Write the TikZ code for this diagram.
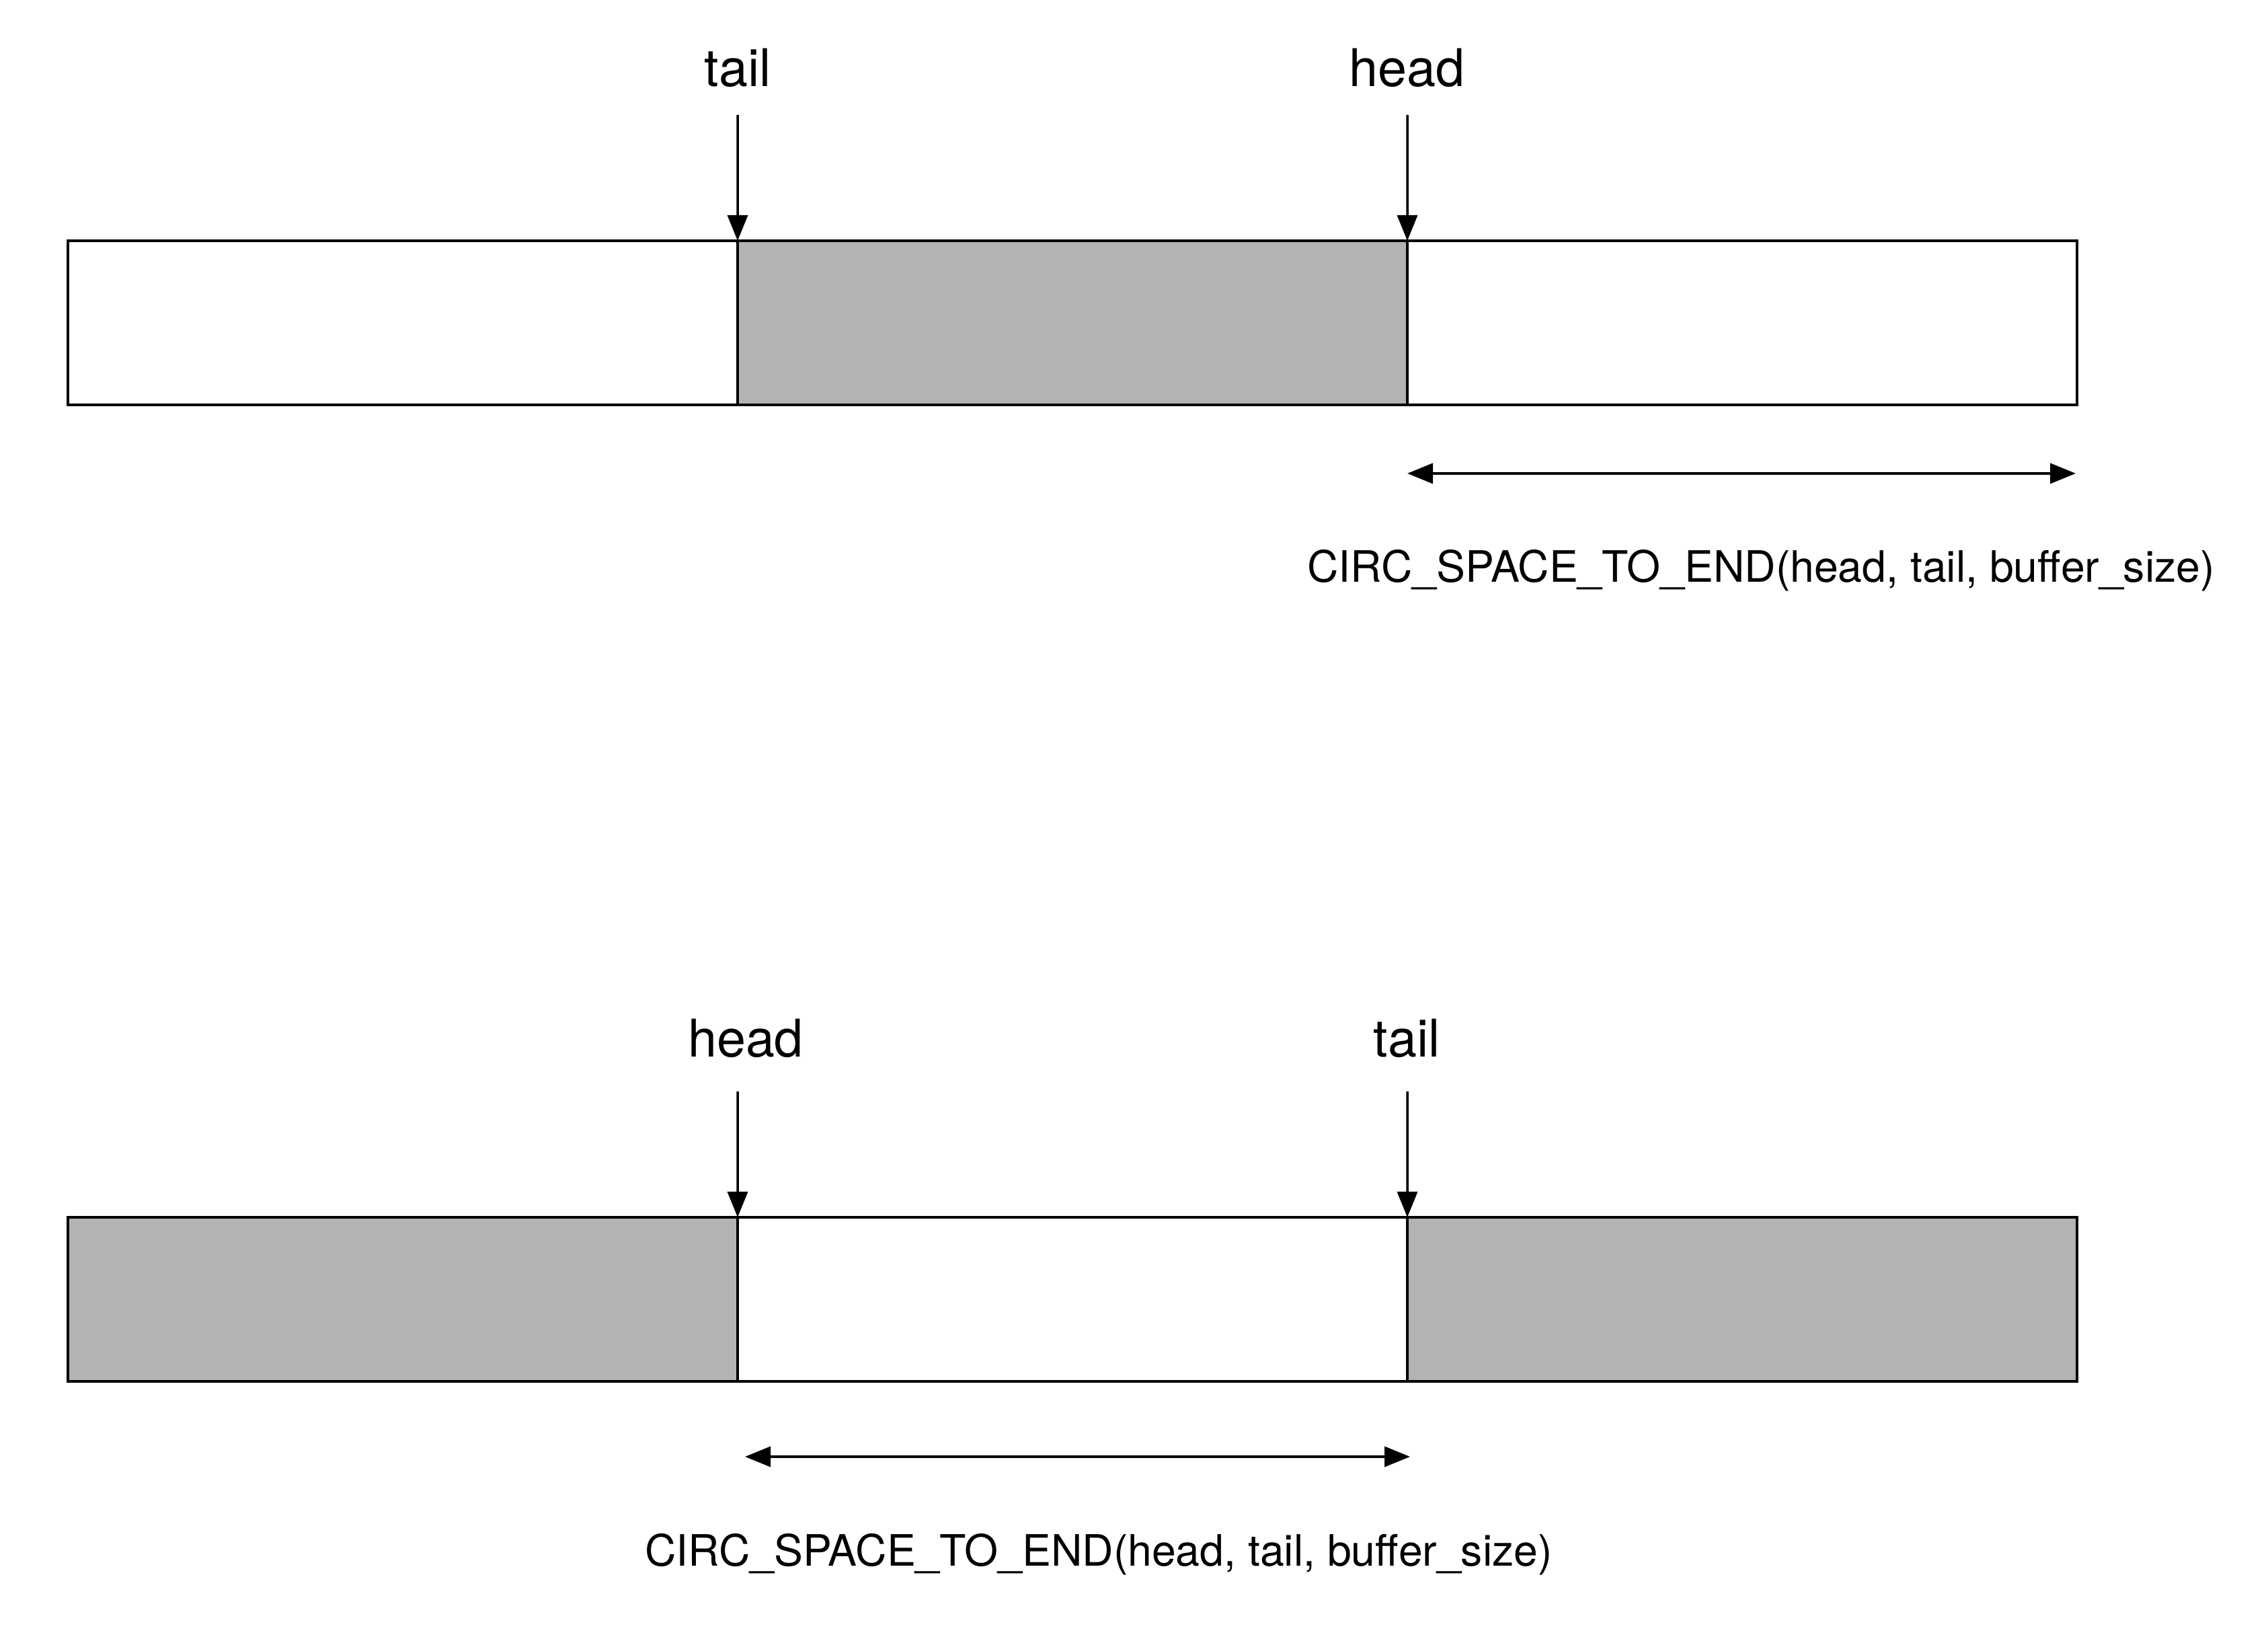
\documentclass[tikz,border=0pt]{standalone}
\usepackage{fontspec}
\setmainfont{TeX Gyre Heros}
\usepackage{xcolor}
\usepackage{tikz}
\usetikzlibrary{arrows.meta, positioning}
\definecolor{bufgray}{HTML}{B3B3B3}

\begin{document}
\begin{tikzpicture}[x=1cm, y=1cm,
  cell/.style={draw=black, line width=1.1pt, minimum width=9.96cm, minimum height=2.44cm, inner sep=0pt, outer sep=0pt},
  usedcell/.style={cell, fill=bufgray},
  ptrlabel/.style={font=\fontsize{22}{26}\selectfont, anchor=base, inner sep=0pt},
  spanlabel/.style={font=\fontsize{18.3}{22}\selectfont, anchor=base, inner sep=0pt},
  ptr/.style={-{Triangle[length=0.38cm, width=0.30cm]}, line width=1pt},
  spanarrow/.style={{Triangle[length=0.38cm, width=0.30cm]}-{Triangle[length=0.38cm, width=0.30cm]}, line width=1pt}]
\useasboundingbox (0,0) rectangle (33.73,24.43);

% first case: tail before head
\node[cell, anchor=west] (a1) at (1.01,19.63) {};
\node[usedcell, right=0pt of a1] (a2) {};
\node[cell, right=0pt of a2] (a3) {};
\node[ptrlabel] (tailA) at (10.97,23.14) {tail};
\node[ptrlabel] (headA) at (20.92,23.14) {head};
\coordinate (tailAtop) at (10.97,22.72);
\coordinate (headAtop) at (20.93,22.72);
\draw[ptr] (tailAtop) -- (a2.north west);
\draw[ptr] (headAtop) -- (a3.north west);
\coordinate (spanAl) at (20.93,17.39);
\coordinate (spanAr) at (30.87,17.39);
\draw[spanarrow] (spanAl) -- (spanAr);
\node[spanlabel] (spaceA) at (26.19,15.77) {CIRC\_SPACE\_TO\_END(head, tail, buffer\_size)};

% second case: head before tail
\node[usedcell, anchor=west] (b1) at (1.01,5.11) {};
\node[cell, right=0pt of b1] (b2) {};
\node[usedcell, right=0pt of b2] (b3) {};
\node[ptrlabel] (headB) at (11.09,8.71) {head};
\node[ptrlabel] (tailB) at (20.92,8.71) {tail};
\coordinate (headBtop) at (10.97,8.20);
\coordinate (tailBtop) at (20.93,8.20);
\draw[ptr] (headBtop) -- (b2.north west);
\draw[ptr] (tailBtop) -- (b3.north west);
\coordinate (spanBl) at (11.08,2.77);
\coordinate (spanBr) at (20.97,2.77);
\draw[spanarrow] (spanBl) -- (spanBr);
\node[spanlabel] (spaceB) at (16.34,1.14) {CIRC\_SPACE\_TO\_END(head, tail, buffer\_size)};
\end{tikzpicture}
\end{document}
